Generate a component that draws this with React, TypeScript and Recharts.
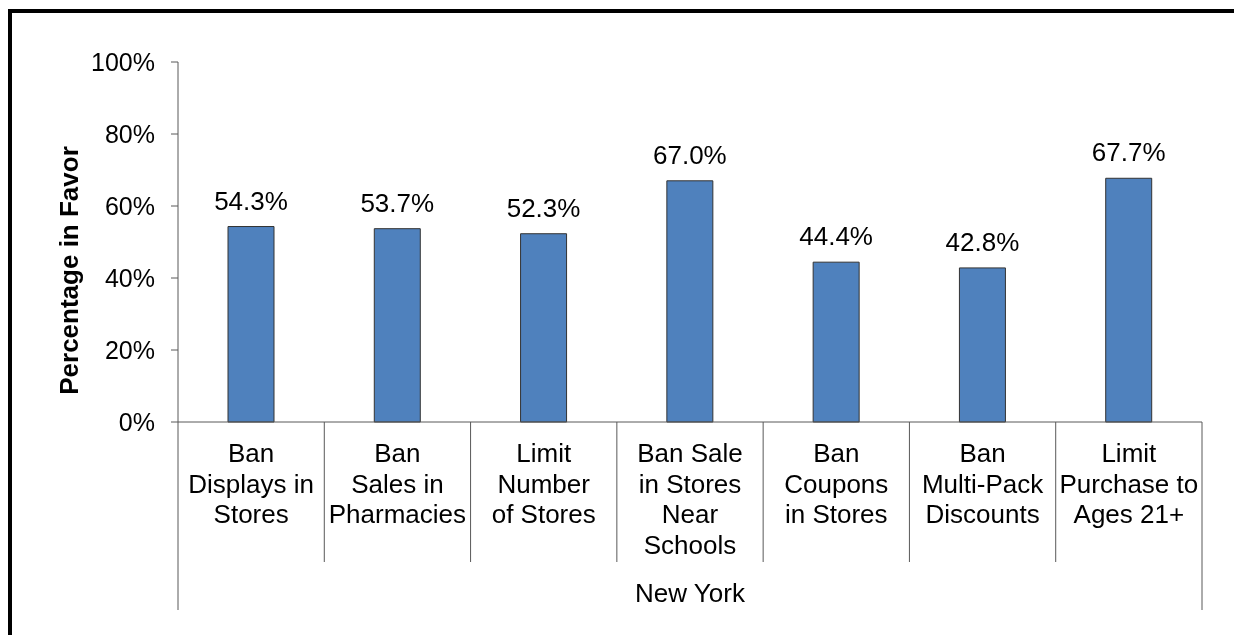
import { Bar, BarChart, LabelList, XAxis, YAxis } from 'recharts';

const categories = [
  'Ban\nDisplays in\nStores',
  'Ban\nSales in\nPharmacies',
  'Limit\nNumber\nof Stores',
  'Ban Sale\nin Stores\nNear\nSchools',
  'Ban\nCoupons\nin Stores',
  'Ban\nMulti-Pack\nDiscounts',
  'Limit\nPurchase to\nAges 21+',
];
const favor = [54.3, 53.7, 52.3, 67.0, 44.4, 42.8, 67.7];
const yTicks = [0, 20, 40, 60, 80, 100];
const groupLabel = 'New York';
const yTitle = 'Percentage in Favor';

const data = categories.map((category, i) => ({ category, favor: favor[i] }));

// layout (chart sits at the body's 8px margin)
const W = 1218;
const H = 619;
const M = { top: 54, right: 24, bottom: 0, left: 70 };
const Y_AXIS_W = 100;
const PLOT_LEFT = M.left + Y_AXIS_W;
const PLOT_RIGHT = W - M.right;
const PLOT_BOTTOM = 414;
const BAND = (PLOT_RIGHT - PLOT_LEFT) / categories.length;
const FONT = '"Liberation Sans", Arial, sans-serif';
const AXIS = '#595959';

function CategoryTick({ x, payload, index }: any) {
  const lines = String(payload.value).split('\n');
  const left = x - BAND / 2;
  const right = x + BAND / 2;
  const last = index === categories.length - 1;
  return (
    <g>
      <line
        x1={left}
        x2={left}
        y1={PLOT_BOTTOM}
        y2={PLOT_BOTTOM + (index === 0 ? 188 : 140)}
        stroke={AXIS}
      />
      {last && (
        <line x1={right} x2={right} y1={PLOT_BOTTOM} y2={PLOT_BOTTOM + 188} stroke={AXIS} />
      )}
      <text x={x} y={PLOT_BOTTOM + 40} textAnchor="middle" fill="#000" fontSize={26} fontFamily={FONT}>
        {lines.map((l, i) => (
          <tspan key={i} x={x} dy={i === 0 ? 0 : 30.5}>
            {l}
          </tspan>
        ))}
      </text>
    </g>
  );
}

function YTitle({ viewBox }: any) {
  const cx = viewBox.x - 9;
  const cy = viewBox.y + viewBox.height / 2 + 28.5;
  return (
    <text
      x={cx}
      y={cy}
      transform={`rotate(-90 ${cx} ${cy})`}
      textAnchor="middle"
      dominantBaseline="central"
      fontWeight="bold"
      fontSize={26}
      fontFamily={FONT}
      fill="#000"
    >
      {yTitle}
    </text>
  );
}

function GroupTitle({ viewBox }: any) {
  return (
    <text
      x={viewBox.x + viewBox.width / 2}
      y={viewBox.y + 180}
      textAnchor="middle"
      fontSize={26}
      fontFamily={FONT}
      fill="#000"
    >
      {groupLabel}
    </text>
  );
}

export default function App() {
  return (
    <div style={{ position: 'relative', width: W, height: H, background: '#fff' }}>
      <div
        style={{
          position: 'fixed',
          left: 8,
          top: 9,
          right: 0,
          bottom: 0,
          borderLeft: '4px solid #000',
          borderTop: '4px solid #000',
          pointerEvents: 'none',
        }}
      />
      <BarChart width={W} height={H} data={data} margin={M}>
        <XAxis
          dataKey="category"
          interval={0}
          height={H - PLOT_BOTTOM}
          axisLine={{ stroke: AXIS }}
          tickLine={false}
          tick={(p: any) => <CategoryTick {...p} />}
          label={(p: any) => <GroupTitle {...p} />}
        />
        <YAxis
          width={Y_AXIS_W}
          domain={[0, 100]}
          ticks={yTicks}
          tickFormatter={(v) => `${v}%`}
          tickSize={7}
          tickMargin={16}
          axisLine={{ stroke: AXIS }}
          tickLine={{ stroke: AXIS }}
          tick={{ fill: '#000', fontSize: 25, fontFamily: FONT }}
          label={(p: any) => <YTitle {...p} />}
        />
        <Bar
          dataKey="favor"
          fill="#4F81BD"
          stroke="#333"
          strokeWidth={1}
          barSize={46}
          isAnimationActive={false}
        >
          <LabelList
            dataKey="favor"
            position="top"
            offset={17}
            formatter={(v: any) => `${Number(v).toFixed(1)}%`}
            fill="#000"
            fontSize={26}
            fontFamily={FONT}
          />
        </Bar>
      </BarChart>
    </div>
  );
}
